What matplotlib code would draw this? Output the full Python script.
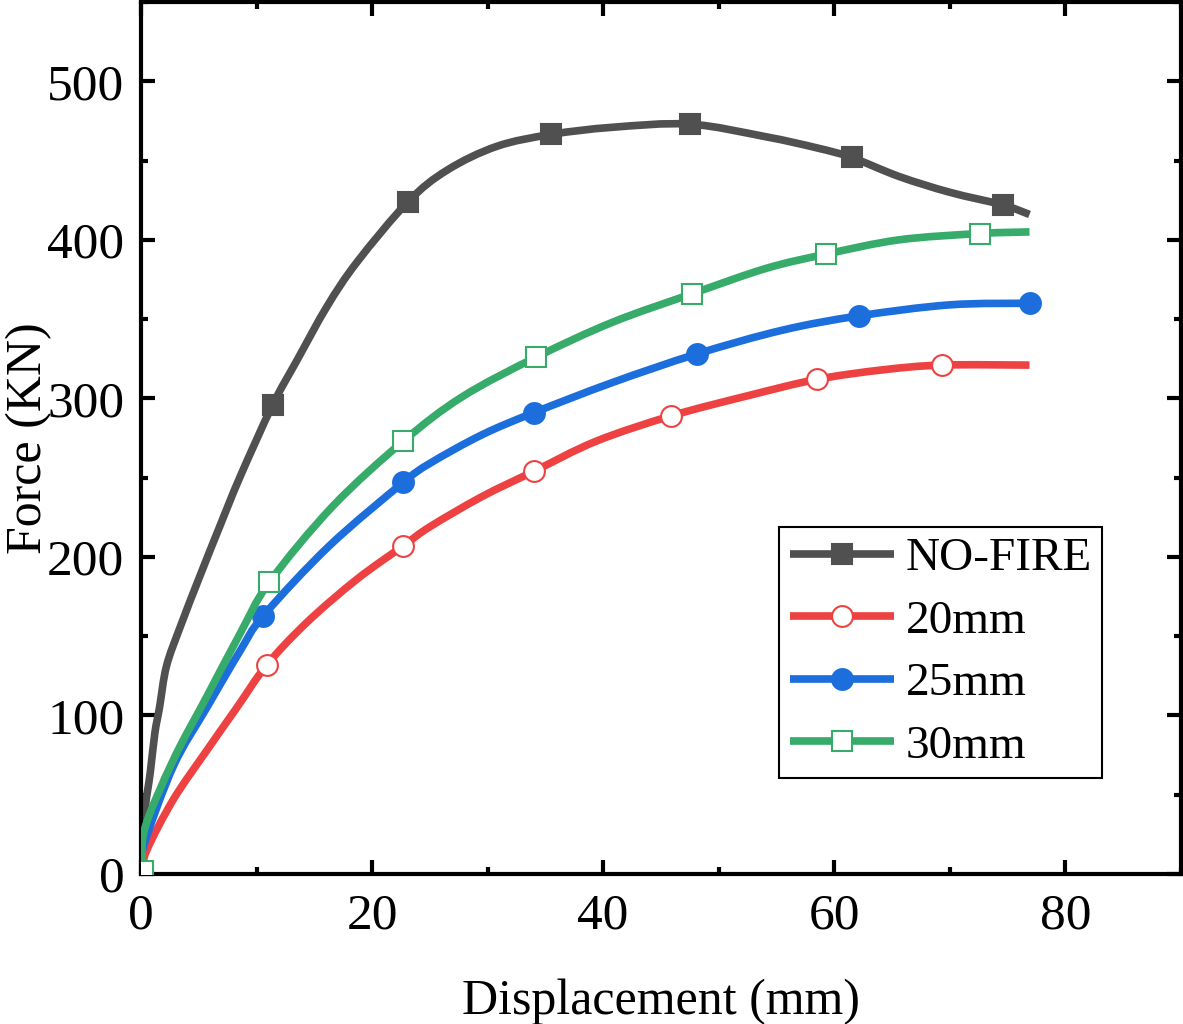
import matplotlib
matplotlib.use('Agg')
import numpy as np
import matplotlib.pyplot as plt
from matplotlib.path import Path
from matplotlib.patches import PathPatch
from matplotlib.lines import Line2D
from matplotlib.ticker import MultipleLocator

# 字体设置
plt.rcParams['font.family'] = ['Liberation Serif', 'DejaVu Serif']

# 数据
nofire_x = [0.0, 0.35, 0.8, 1.2, 1.6, 2.2, 3.4, 5.1, 6.8, 8.6, 11.4, 13.5, 16.1, 18.7, 23.1,
            26.5, 30.8, 35.5, 40.8, 47.5, 54.1, 58.5, 61.5, 65.6, 70.0, 74.6, 76.9]
nofire_y = [0, 40, 64, 89, 105, 131, 156, 188, 219, 251, 296, 324, 358, 386, 424,
            444, 459, 466.5, 471, 473, 465, 458, 452, 440, 430, 422, 416]
nofire_mk = [10, 14, 17, 19, 22, 25]

mm20_x = [0.0, 0.5, 2.8, 5.7, 8.3, 10.9, 14.4, 18.7, 22.7, 25.0, 29.5, 34.0, 39.4, 45.9, 52.7,
          58.5, 64.2, 69.3, 76.9]
mm20_y = [0, 15, 47, 78, 105, 132, 159, 186, 207, 219, 238, 254, 273, 289, 302,
          312, 318, 321, 321]
mm20_mk = [5, 8, 11, 13, 15, 17]

mm25_x = [0.0, 0.2, 2.8, 5.7, 8.6, 10.6, 16.3, 22.7, 25.0, 29.5, 34.0, 40.8, 48.1, 55.5, 62.1, 70.0, 76.9]
mm25_y = [0, 17, 68, 105, 141, 163, 207, 247, 259, 277, 291, 310, 328, 343, 352, 359, 360]
mm25_mk = [5, 7, 10, 12, 14, 16]

mm30_x = [0.2, 0.3, 2.8, 5.7, 8.6, 11.1, 16.6, 22.7, 27.8, 34.2, 40.8, 47.7, 54.1, 59.3, 65.6, 72.6, 76.9]
mm30_y = [2, 28, 72, 112, 152, 184, 232, 273, 301, 326, 348, 366, 382, 391, 400, 404, 405]
mm30_mk = [0, 5, 7, 9, 11, 13, 15]

labels = ['NO-FIRE', '20mm', '25mm', '30mm']
colors = ['#505050', '#EE4242', '#1B6EDC', '#37AB6A']


def spline_path(xs, ys):
    # 类似 Origin 的样条连接: Catmull-Rom 曲线转为三次贝塞尔路径
    p = np.column_stack([xs, ys]).astype(float)
    n = len(p)
    verts = [p[0]]
    codes = [Path.MOVETO]
    for i in range(n - 1):
        p0 = p[i - 1] if i > 0 else p[i]
        p1, p2 = p[i], p[i + 1]
        p3 = p[i + 2] if i + 2 < n else p[i + 1]
        verts += [p1 + (p2 - p0) / 6, p2 - (p3 - p1) / 6, p2]
        codes += [Path.CURVE4] * 3
    return Path(verts, codes)


fig = plt.figure(figsize=(11.83, 10.24), dpi=100)
ax = fig.add_axes([0.1192, 0.1465, 0.879, 0.8515])

lw = 5.5
ms = 14
series = [
    (nofire_x, nofire_y, nofire_mk, 's', True),
    (mm20_x, mm20_y, mm20_mk, 'o', False),
    (mm25_x, mm25_y, mm25_mk, 'o', True),
    (mm30_x, mm30_y, mm30_mk, 's', False),
]
handles = []
for k, (xs, ys, mk, m, filled) in enumerate(series):
    c = colors[k]
    ax.add_patch(PathPatch(spline_path(xs, ys), fill=False, edgecolor=c, lw=lw,
                           capstyle='butt', joinstyle='round', zorder=2 + 2 * k))
    size = ms if m == 's' else ms + 1
    ax.plot([xs[i] for i in mk], [ys[i] for i in mk], ls='none', marker=m, ms=size,
            mfc=c if filled else 'white', mec=c, mew=1.5, zorder=3 + 2 * k)
    handles.append(Line2D([], [], color=c, lw=lw, marker=m, ms=size,
                          mfc=c if filled else 'white', mec=c, mew=1.5,
                          solid_capstyle='butt'))

# 坐标轴范围和刻度
ax.set_xlim(0, 90)
ax.set_ylim(0, 550)
ax.set_xticks([0, 20, 40, 60, 80])
ax.xaxis.set_minor_locator(MultipleLocator(10))
ax.yaxis.set_major_locator(MultipleLocator(100))
ax.yaxis.set_minor_locator(MultipleLocator(50))

ax.tick_params(which='both', direction='in', top=True, right=True, width=3)
ax.tick_params(which='major', length=10, labelsize=37)
ax.tick_params(which='minor', length=5)
ax.tick_params(axis='y', which='major', pad=12)
ax.tick_params(axis='x', which='major', pad=14)
for sp in ax.spines.values():
    sp.set_linewidth(3)

ax.set_xlabel('Displacement (mm)', fontsize=36, labelpad=28)
ax.set_ylabel('Force (KN)', fontsize=36)
ax.yaxis.set_label_coords(-0.085, 0.5)

leg = ax.legend(handles, labels, loc='upper left', bbox_to_anchor=(0.614, 0.398), fontsize=34,
                frameon=True, fancybox=False, edgecolor='black', framealpha=1,
                handlelength=2.2, handletextpad=0.25, labelspacing=0.41,
                borderpad=0.22, borderaxespad=0)
leg.get_frame().set_linewidth(1.5)

plt.savefig('out.png', dpi=100)
